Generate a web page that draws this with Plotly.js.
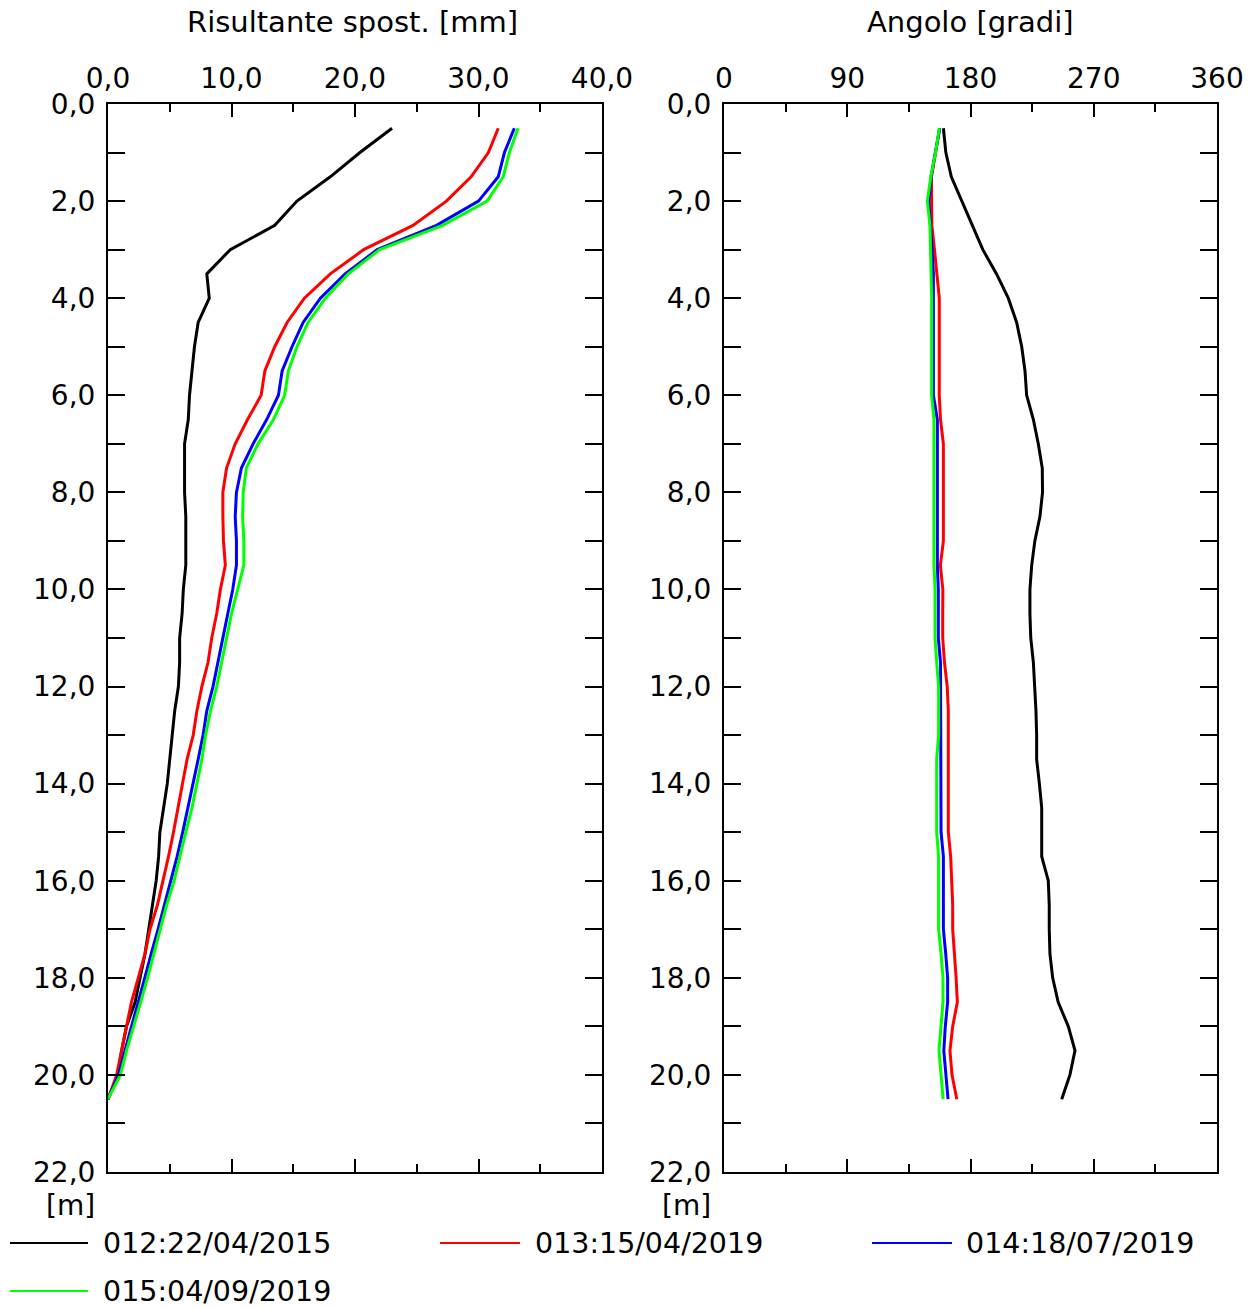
<!DOCTYPE html>
<html>
<head>
<meta charset="utf-8">
<script src="https://cdn.plot.ly/plotly-3.0.1.min.js"></script>
<style>html,body{margin:0;padding:0;background:#fff;}#chart{width:1255px;height:1308px;}</style>
</head>
<body>
<div id="chart"></div>
<script>
const depth = [0.5,1.0,1.5,2.0,2.5,3.0,3.5,4.0,4.5,5.0,5.5,6.0,6.5,7.0,7.5,8.0,8.5,9.0,9.5,10.0,10.5,11.0,11.5,12.0,12.5,13.0,13.5,14.0,14.5,15.0,15.5,16.0,16.5,17.0,17.5,18.0,18.5,19.0,19.5,20.0,20.5];

const seriesNames = ["012:22/04/2015","013:15/04/2019","014:18/07/2019","015:04/09/2019"];
const seriesColors = ["#000000","#ff0000","#0000ff","#00ff00"];

const dispBlack = [23.0,20.4,18.0,15.3,13.5,9.9,8.0,8.2,7.3,7.0,6.8,6.6,6.5,6.2,6.2,6.2,6.3,6.3,6.3,6.1,6.0,5.8,5.8,5.7,5.4,5.2,5.0,4.8,4.5,4.2,4.1,3.9,3.6,3.3,3.0,2.6,2.2,1.5,1.1,0.8,0.0];
const dispRed   = [31.6,30.8,29.4,27.4,24.7,20.7,18.0,15.9,14.5,13.5,12.7,12.4,11.3,10.3,9.6,9.3,9.3,9.35,9.5,9.1,8.8,8.4,8.1,7.6,7.2,6.9,6.4,6.05,5.7,5.3,4.9,4.45,4.0,3.4,3.0,2.45,1.9,1.5,1.1,0.7,0.0];
const dispBlue  = [32.9,32.1,31.6,30.0,26.6,21.8,19.2,17.2,15.8,14.9,14.1,13.8,12.85,11.75,10.8,10.4,10.3,10.4,10.4,10.1,9.7,9.3,8.9,8.5,8.0,7.7,7.3,6.9,6.5,6.05,5.6,5.1,4.6,4.05,3.5,3.0,2.45,1.9,1.4,0.85,0.0];
const dispGreen = [33.2,32.5,32.0,30.7,27.1,22.0,19.45,17.6,16.2,15.3,14.6,14.3,13.4,12.15,11.2,10.95,10.9,11.0,11.0,10.5,10.0,9.6,9.2,8.8,8.3,7.9,7.6,7.2,6.8,6.3,5.8,5.35,4.75,4.25,3.7,3.2,2.65,2.05,1.5,1.0,0.0];

const angBlack = [160.2,162,166,173.5,181,189,199,207.6,213.7,217.4,219.8,221,225.9,229.5,232.4,232.6,230.7,227,224.7,223.4,223.4,224,225.9,227,227.8,228.3,228.3,230.3,232,232,232,236.8,237.5,237.5,238,240,244,251.4,256.3,252.6,246.6];
const angRed   = [157.5,154.5,151.5,151.6,151.8,153.7,155.5,157.2,157.2,157.2,157.2,157.2,158.1,160.2,160.2,160.2,160.2,160.2,158.0,159.8,159.7,159.7,161.0,163.0,163.8,163.8,163.8,163.8,163.8,163.8,165.5,166.5,167.0,167.0,168.5,169.5,170.4,167.0,165.0,166.5,170.0];
const angBlue  = [157.5,154.6,151.2,149.5,151.0,152.0,152.9,152.9,152.9,152.9,152.9,152.9,155.8,155.8,155.8,155.8,155.8,155.8,155.8,156.5,156.5,156.5,158.1,158.1,158.1,158.1,158.5,158.5,158.5,158.5,160.2,160.2,160.2,160.2,161.9,163.3,163.3,161.6,160.5,162.2,163.6];
const angGreen = [157.2,154.5,151.0,148.5,150.4,150.8,151.6,151.6,151.6,151.6,151.6,151.6,153.3,153.3,153.3,153.3,153.3,153.3,153.3,154.1,154.1,154.1,155.3,156.7,156.7,156.7,155.3,155.3,155.3,155.3,156.7,156.7,156.7,156.7,158.5,159.9,159.9,158.5,157.0,158.5,160.0];

const dispTickVals = [0,10,20,30,40];
const dispTickText = ["0,0","10,0","20,0","30,0","40,0"];
const dispMinorVals = [5,15,25,35];
const angTickVals = [0,90,180,270,360];
const angTickText = ["0","90","180","270","360"];
const angMinorVals = [45,135,225,315];
const depthTickVals = [0,1,2,3,4,5,6,7,8,9,10,11,12,13,14,15,16,17,18,19,20,21,22];
const depthTickText = ["0,0","","2,0","","4,0","","6,0","","8,0","","10,0","","12,0","","14,0","","16,0","","18,0","","20,0","","22,0"];

const dispSeries = [dispBlack, dispRed, dispBlue, dispGreen];
const angSeries = [angBlack, angRed, angBlue, angGreen];

const W = 1255, H = 1308;
const FONT = "DejaVu Sans";

const traces = [];
for (let i = 0; i < 4; i++) {
  traces.push({x: dispSeries[i], y: depth, xaxis: "x", yaxis: "y", type: "scatter", mode: "lines",
    name: seriesNames[i], line: {color: seriesColors[i], width: 3}, showlegend: false, hoverinfo: "skip"});
}
for (let i = 0; i < 4; i++) {
  traces.push({x: angSeries[i], y: depth, xaxis: "x2", yaxis: "y2", type: "scatter", mode: "lines",
    name: seriesNames[i], line: {color: seriesColors[i], width: 3}, showlegend: false, hoverinfo: "skip"});
}

const yDom = [1 - 1172 / H, 1 - 104 / H];
function xAxis(dom, range, tv, tt, mv, anchor) {
  return {domain: dom, range: range, anchor: anchor, side: "top", tickmode: "array", tickvals: tv, ticktext: tt,
    ticks: "inside", ticklen: 13, tickwidth: 2, tickcolor: "#000", mirror: "ticks", showline: true, linewidth: 2,
    linecolor: "#000", showgrid: false, zeroline: false, ticklabelstandoff: 3,
    minor: {tickmode: "array", tickvals: mv, ticks: "inside", ticklen: 8, tickwidth: 2, tickcolor: "#000", showgrid: false},
    tickfont: {family: FONT, size: 28, color: "#000"}, fixedrange: true};
}
function yAxis(anchor) {
  return {domain: yDom, range: [22, 0], anchor: anchor, tickmode: "array", tickvals: depthTickVals, ticktext: depthTickText,
    ticks: "inside", ticklen: 17, tickwidth: 2, tickcolor: "#000", mirror: "ticks", showline: true, linewidth: 2,
    linecolor: "#000", showgrid: false, zeroline: false, ticklabelstandoff: 5,
    tickfont: {family: FONT, size: 28, color: "#000"}, fixedrange: true};
}

const annotations = [
  {text: "Risultante spost. [mm]", x: 352.5 / W, y: 1 - 22 / H, xref: "paper", yref: "paper", xanchor: "center", yanchor: "middle", showarrow: false, font: {family: FONT, size: 29, color: "#000"}},
  {text: "Angolo [gradi]", x: 970.5 / W, y: 1 - 22 / H, xref: "paper", yref: "paper", xanchor: "center", yanchor: "middle", showarrow: false, font: {family: FONT, size: 29, color: "#000"}},
  {text: "[m]", x: 70 / W, y: 1 - 1205 / H, xref: "paper", yref: "paper", xanchor: "center", yanchor: "middle", showarrow: false, font: {family: FONT, size: 28, color: "#000"}},
  {text: "[m]", x: 686 / W, y: 1 - 1205 / H, xref: "paper", yref: "paper", xanchor: "center", yanchor: "middle", showarrow: false, font: {family: FONT, size: 28, color: "#000"}}
];
const shapes = [];
const legPos = [[10, 88, 101, 1243], [440, 520, 533, 1243], [872, 952, 964, 1243], [10, 88, 101, 1291]];
for (let i = 0; i < 4; i++) {
  const p = legPos[i];
  shapes.push({type: "line", xref: "paper", yref: "paper", x0: p[0] / W, x1: p[1] / W, y0: 1 - p[3] / H, y1: 1 - p[3] / H,
    line: {color: seriesColors[i], width: 2}});
  annotations.push({text: seriesNames[i], x: p[2] / W, y: 1 - p[3] / H, xref: "paper", yref: "paper", xanchor: "left", yanchor: "middle",
    showarrow: false, font: {family: FONT, size: 28.5, color: "#000"}});
}

const layout = {
  width: W, height: H, margin: {l: 0, r: 0, t: 0, b: 0}, paper_bgcolor: "#fff", plot_bgcolor: "#fff",
  showlegend: false, font: {family: FONT, size: 28, color: "#000"},
  xaxis: xAxis([108 / W, 602 / W], [0, 40], dispTickVals, dispTickText, dispMinorVals, "y"),
  yaxis: yAxis("x"),
  xaxis2: xAxis([724 / W, 1217 / W], [0, 360], angTickVals, angTickText, angMinorVals, "y2"),
  yaxis2: yAxis("x2"),
  annotations: annotations, shapes: shapes
};

Plotly.newPlot("chart", traces, layout, {displayModeBar: false, staticPlot: true});
</script>
</body>
</html>
